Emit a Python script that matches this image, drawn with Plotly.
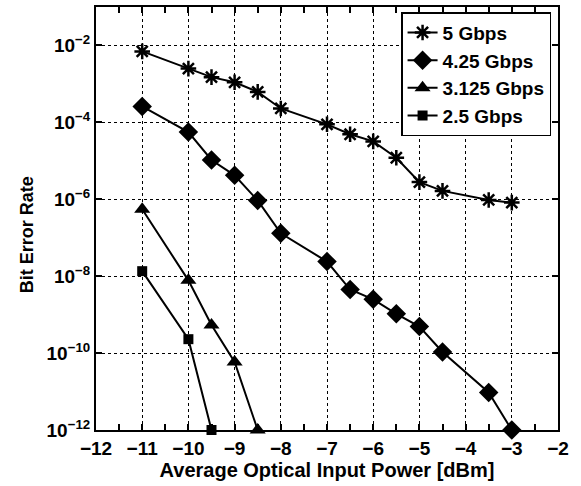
import plotly.graph_objects as go

series_names = ["5 Gbps", "4.25 Gbps", "3.125 Gbps", "2.5 Gbps"]

x_5 = [-11, -10, -9.5, -9, -8.5, -8, -7, -6.5, -6, -5.5, -5, -4.5, -3.5, -3]
ber_5 = [7e-3, 2.5e-3, 1.5e-3, 1.1e-3, 6.2e-4, 2.3e-4, 8.9e-5, 4.9e-5, 3.2e-5,
         1.2e-5, 2.8e-6, 1.65e-6, 9.6e-7, 8.2e-7]

x_425 = [-11, -10, -9.5, -9, -8.5, -8, -7, -6.5, -6, -5.5, -5, -4.5, -3.5, -3]
ber_425 = [2.6e-4, 5.6e-5, 1.05e-5, 4.2e-6, 9.3e-7, 1.3e-7, 2.4e-8, 4.5e-9,
           2.5e-9, 1.05e-9, 4.9e-10, 1.07e-10, 9.5e-12, 1e-12]

x_3125 = [-11, -10, -9.5, -9, -8.5]
ber_3125 = [5.5e-7, 7.8e-9, 5.4e-10, 5.9e-11, 1e-12]

x_25 = [-11, -10, -9.5]
ber_25 = [1.35e-8, 2.3e-10, 1e-12]

x_tick_vals = [-12, -11, -10, -9, -8, -7, -6, -5, -4, -3, -2]
x_tick_text = ["<b>\u2212%d</b>" % abs(v) for v in x_tick_vals]

y_tick_vals = [1e-12, 1e-10, 1e-8, 1e-6, 1e-4, 1e-2]
y_tick_text = ["<b>10<sup>\u221212</sup></b>", "<b>10<sup>\u221210</sup></b>",
               "<b>10<sup>\u22128</sup></b>", "<b>10<sup>\u22126</sup></b>",
               "<b>10<sup>\u22124</sup></b>", "<b>10<sup>\u22122</sup></b>"]

FONT = "Liberation Sans, Arial, sans-serif"

fig = go.Figure()

styles = [
    dict(symbol="asterisk-open", size=13, line=dict(width=2.5, color="black")),
    dict(symbol="diamond", size=15),
    dict(symbol="triangle-up", size=14),
    dict(symbol="square", size=10),
]
data = [(x_5, ber_5), (x_425, ber_425), (x_3125, ber_3125), (x_25, ber_25)]

for name, (xs, ys), mk in zip(series_names, data, styles):
    fig.add_trace(go.Scatter(
        x=xs, y=ys, name=name, mode="lines+markers",
        line=dict(color="black", width=2),
        marker=dict(color="black", **mk),
        cliponaxis=False,
    ))

axis_common = dict(
    showline=True, linecolor="black", linewidth=2, mirror="ticks",
    ticks="inside", ticklen=6, tickwidth=2, tickcolor="black",
    showgrid=True, gridcolor="black", griddash="dot", gridwidth=1,
    zeroline=False,
    tickfont=dict(family=FONT, size=19, color="black", weight="bold"),
)

fig.update_xaxes(
    range=[-12, -2], tickvals=x_tick_vals, ticktext=x_tick_text,
    minor=dict(dtick=0.5, tick0=0, ticks="inside", ticklen=6, tickwidth=2,
               tickcolor="black", showgrid=False),
    title=dict(text="<b>Average Optical Input Power [dBm]</b>",
               font=dict(family=FONT, size=20, color="black"), standoff=2),
    **axis_common,
)
fig.update_yaxes(
    type="log", range=[-12, -1],
    tickvals=y_tick_vals, ticktext=y_tick_text,
    **axis_common,
)

fig.add_annotation(
    text="<b>Bit Error Rate</b>", textangle=-90,
    xref="paper", yref="paper", x=-0.149, y=0.461,
    xanchor="center", yanchor="middle", showarrow=False,
    font=dict(family=FONT, size=18, color="black"),
)

fig.update_layout(
    width=581, height=486,
    margin=dict(l=96, r=23, t=5, b=56),
    paper_bgcolor="white", plot_bgcolor="white",
    showlegend=True,
    legend=dict(
        x=0.985, y=0.988, xanchor="right", yanchor="top",
        bgcolor="white", bordercolor="black", borderwidth=1.5,
        font=dict(family=FONT, size=19, color="black", weight="bold"),
        tracegroupgap=0, itemwidth=30,
    ),
)

fig.write_html("out.html")
